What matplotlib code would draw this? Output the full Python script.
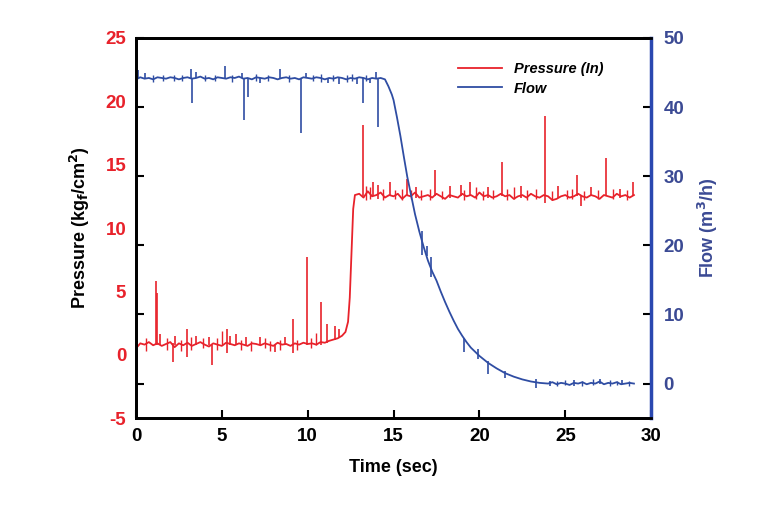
#!/usr/bin/env python
# Pressure / flow transient plot (twin y axes)

import numpy as np
import matplotlib

matplotlib.use("Agg")
from matplotlib import pyplot as plt  # noqa: E402
from matplotlib.lines import Line2D  # noqa: E402

plt.rcParams["font.family"] = ["Liberation Sans", "DejaVu Sans"]
plt.rcParams["axes.unicode_minus"] = False

RED = "#e8222b"
BLUE = "#2f4da3"
BLUE_TXT = "#3b4a94"

# ---------------------------------------------------------------- data
# pressure trace (kg_f/cm^2)
press_t_low = np.arange(0.0, 11.26, 0.25)
press_v_low = [
    0.5, 0.9, 0.8, 1.0, 0.75, 0.9, 0.7, 0.85, 1.0, 0.6,
    0.9, 0.75, 0.95, 0.7, 0.85, 1.0, 0.8, 0.65, 0.9, 0.8,
    0.7, 0.95, 0.85, 0.75, 0.9, 0.8, 0.7, 0.9, 0.85, 0.75,
    0.9, 0.8, 0.7, 0.95, 0.8, 0.85, 0.7, 0.9, 0.8, 0.95,
    0.85, 0.9, 0.8, 1.0, 0.95, 1.1,
]
press_t_rise = [11.5, 11.75, 12.0, 12.2, 12.35, 12.45, 12.55, 12.65, 12.75]
press_v_rise = [1.2, 1.3, 1.5, 1.8, 2.6, 4.5, 8.0, 11.5, 12.6]
press_t_high = np.arange(13.0, 29.01, 0.25)
press_v_high = [
    12.7, 12.4, 12.9, 12.5, 12.6, 12.8, 12.4, 12.6, 12.5, 12.7,
    12.3, 12.6, 12.5, 12.8, 12.4, 12.5, 12.6, 12.4, 12.7, 12.5,
    12.3, 12.6, 12.5, 12.4, 12.7, 12.5, 12.6, 12.4, 12.8, 12.5,
    12.6, 12.4, 12.5, 12.7, 12.5, 12.6, 12.3, 12.5, 12.6, 12.4,
    12.7, 12.5, 12.4, 12.6, 12.5, 12.2, 12.3, 12.5, 12.6, 12.4,
    12.5, 12.7, 12.5, 12.4, 12.6, 12.5, 12.3, 12.6, 12.5, 12.4,
    12.7, 12.5, 12.6, 12.4, 12.6,
]
# pressure spikes: time, low end, high end
press_spk_t = [0.05, 1.16, 1.25, 1.4, 2.16, 2.3, 2.96, 3.5, 4.25, 4.4, 5.3,
               5.45, 5.8, 6.4, 7.2, 8.1, 8.7, 9.14, 9.95, 10.8, 11.1, 11.6,
               11.8, 13.2, 13.8, 14.1, 14.8, 15.8, 16.3, 17.4, 18.3, 18.9,
               19.45, 20.5, 21.3, 22.4, 23.8, 24.6, 25.7, 25.9, 26.5, 27.4,
               28.2, 28.95]
press_spk_lo = [-0.3, 0.8, 0.8, 0.8, -0.6, 0.8, -0.2, 0.8, 0.8, -0.8, 0.1,
                0.8, 0.8, 0.8, 0.8, 0.2, 0.8, 0.1, 0.8, 0.8, 0.9, 1.2,
                1.3, 12.5, 12.5, 12.3, 12.5, 12.5, 12.4, 12.5, 12.4, 12.5,
                12.5, 12.4, 12.5, 12.4, 12.0, 12.4, 12.5, 11.7, 12.5, 12.5,
                12.4, 12.5]
press_spk_hi = [1.2, 5.8, 4.9, 1.6, 0.9, 1.5, 2.0, 1.5, 1.4, 0.8, 2.0,
                1.5, 1.6, 1.4, 1.4, 0.8, 1.4, 2.8, 7.7, 4.2, 2.4, 2.3,
                2.0, 18.1, 13.6, 13.4, 13.6, 13.9, 13.2, 14.6, 13.3, 13.4,
                13.6, 13.2, 15.2, 13.3, 18.8, 13.3, 14.2, 12.5, 13.2, 15.5,
                13.1, 13.6]
# small pressure jitter
press_jit_t = [0.6, 1.8, 2.6, 3.2, 3.9, 4.7, 5.0, 6.1, 6.7, 7.5, 7.8, 8.4,
               9.4, 10.2, 10.5, 13.4, 13.6, 14.4, 15.1, 15.5, 16.0, 16.6,
               17.1, 17.8, 19.1, 19.8, 20.2, 20.8, 21.6, 22.0, 22.8, 23.3,
               24.2, 25.1, 25.4, 26.1, 26.9, 27.8, 28.6]
press_jit_lo = [0.3, 0.4, 0.3, 0.4, 0.5, 0.4, 0.8, 0.4, 0.3, 0.5, 0.3, 0.4,
                0.4, 0.5, 0.8, 12.2, 12.3, 12.2, 12.3, 12.2, 12.3, 12.2,
                12.2, 12.3, 12.2, 12.3, 12.2, 12.3, 12.2, 12.3, 12.2, 12.3,
                12.2, 12.3, 12.3, 12.2, 12.3, 12.3, 12.2]
press_jit_hi = [1.3, 1.3, 1.2, 1.4, 1.3, 1.3, 1.9, 1.2, 1.1, 1.3, 1.1, 1.2,
                1.2, 1.3, 1.7, 13.3, 13.2, 13.1, 13.0, 13.1, 13.0, 13.0,
                13.1, 12.9, 13.0, 13.2, 12.9, 13.0, 13.1, 13.2, 13.0, 13.1,
                12.9, 13.0, 13.1, 12.9, 13.0, 13.1, 13.0]

# flow trace (m^3/h)
flow_t_high = np.arange(0.0, 14.26, 0.25)
flow_v_high = [
    44.0, 44.3, 44.1, 44.2, 44.0, 44.3, 44.2, 44.1, 44.3, 44.2,
    44.0, 44.2, 44.3, 44.1, 44.2, 44.4, 44.1, 44.2, 44.0, 44.3,
    44.2, 44.1, 44.3, 44.2, 44.4, 44.1, 44.2, 44.0, 44.3, 44.2,
    44.1, 44.3, 44.2, 44.0, 44.2, 44.3, 44.1, 44.2, 44.0, 44.3,
    44.2, 44.1, 44.3, 44.2, 44.0, 44.2, 44.1, 44.3, 44.2, 44.0,
    44.2, 44.1, 44.3, 44.2, 44.0, 44.2, 44.1, 44.2,
]
flow_t_fall = [14.5, 14.7, 14.9, 15.0, 15.2, 15.4, 15.6, 15.8, 16.0, 16.25,
               16.5, 16.75, 17.0, 17.25, 17.5, 17.75, 18.0, 18.25, 18.5,
               18.75, 19.0, 19.25, 19.5, 19.75, 20.0, 20.5, 21.0, 21.5,
               22.0, 22.5, 23.0, 23.5]
flow_v_fall = [44.0, 43.0, 41.8, 41.0, 38.5, 35.8, 32.8, 29.9, 27.5, 24.5,
               22.0, 19.8, 17.8, 16.2, 14.9, 13.3, 11.8, 10.4, 9.1,
               7.9, 6.9, 6.0, 5.2, 4.6, 4.0, 3.0, 2.2, 1.5,
               1.0, 0.6, 0.3, 0.1]
flow_t_low = np.arange(24.0, 29.01, 0.25)
flow_v_low = [0.0, 0.2, -0.1, 0.1, 0.0, -0.2, 0.1, 0.0, 0.2, -0.1,
              0.1, 0.0, 0.3, -0.1, 0.1, 0.0, 0.2, -0.1, 0.0, 0.1, 0.0]
# flow spikes: time, low end, high end
flow_spk_t = [0.1, 0.5, 3.2, 3.27, 3.5, 5.2, 6.2, 6.29, 6.5, 7.2, 8.4, 9.6,
              9.9, 11.2, 11.8, 12.9, 13.2, 13.6, 14.0, 14.1, 16.65, 16.95,
              17.2, 19.1, 19.9, 20.5, 21.5, 23.3, 24.1, 25.5, 27.0, 28.3]
flow_spk_lo = [44.2, 44.2, 44.2, 40.6, 44.2, 44.2, 44.2, 38.1, 41.4, 43.5,
               44.2, 36.2, 44.2, 43.5, 43.4, 43.3, 40.6, 43.5, 44.2, 37.1,
               18.6, 18.4, 15.4, 4.5, 3.6, 1.4, 0.8, -0.7, -0.4, -0.3,
               0.0, 0.0]
flow_spk_hi = [45.4, 44.9, 45.5, 44.2, 45.0, 45.9, 44.9, 44.2, 44.2, 44.2,
               45.5, 44.2, 44.9, 44.2, 44.2, 44.2, 44.2, 44.2, 45.0, 44.2,
               22.0, 19.9, 18.3, 6.6, 5.0, 3.3, 1.8, 0.7, 0.3, 0.5,
               0.6, 0.5]
# small flow jitter
flow_jit_t = [1.0, 1.6, 2.2, 2.7, 4.0, 4.6, 5.6, 7.0, 7.7, 8.9, 10.3, 10.8,
              11.5, 12.3, 12.6, 13.4, 24.5, 25.0, 26.0, 26.6, 27.6, 28.0,
              28.7]
flow_jit_lo = [43.6, 43.8, 43.7, 43.8, 43.7, 43.8, 43.6, 43.7, 43.8, 43.6,
               43.7, 43.6, 43.8, 43.6, 43.7, 43.7, -0.3, -0.2, -0.3, -0.2,
               -0.3, -0.2, -0.3]
flow_jit_hi = [44.6, 44.7, 44.6, 44.6, 44.6, 44.7, 44.6, 44.8, 44.6, 44.7,
               44.6, 44.8, 44.7, 44.6, 44.8, 44.7, 0.4, 0.5, 0.3, 0.6,
               0.5, 0.4, 0.4]

x_ticks = [0, 5, 10, 15, 20, 25, 30]
press_ticks = [-5, 0, 5, 10, 15, 20, 25]
flow_ticks = [0, 10, 20, 30, 40, 50]


def main():
    fig = plt.figure(figsize=(7.77, 5.05), dpi=100)
    ax = fig.add_axes([0.175, 0.172, 0.663, 0.753])

    press_t = np.concatenate([press_t_low, press_t_rise, press_t_high])
    press_v = np.concatenate([press_v_low, press_v_rise, press_v_high])
    flow_t = np.concatenate([flow_t_high, flow_t_fall, flow_t_low])
    flow_v = np.concatenate([flow_v_high, flow_v_fall, flow_v_low])

    ax.plot(press_t, press_v, color=RED, lw=1.3)
    ax.vlines(press_spk_t, press_spk_lo, press_spk_hi, color=RED, lw=1.2)
    ax.vlines(press_jit_t, press_jit_lo, press_jit_hi, color=RED, lw=1.0)
    ax.set_xlim(0, 30)
    ax.set_ylim(-5, 25)
    ax.set_xticks(x_ticks)
    ax.set_yticks(press_ticks)
    ax.tick_params(axis="y", length=0, pad=7, labelcolor=RED, labelsize=13.5)
    ax.tick_params(axis="x", direction="in", length=6, width=1.5, pad=7,
                   labelsize=13.5, top=False)
    for lab in ax.get_xticklabels() + ax.get_yticklabels():
        lab.set_fontweight("bold")
    ax.set_xlabel("Time (sec)", fontsize=13, fontweight="bold", labelpad=10)
    ax.set_ylabel("Pressure (kg$_\\mathbf{f}$/cm$^\\mathbf{2}$)", fontsize=13,
                  fontweight="bold", labelpad=10)

    ax2 = ax.twinx()
    ax2.plot(flow_t, flow_v, color=BLUE, lw=1.3)
    ax2.vlines(flow_spk_t, flow_spk_lo, flow_spk_hi, color=BLUE, lw=1.2)
    ax2.vlines(flow_jit_t, flow_jit_lo, flow_jit_hi, color=BLUE, lw=1.0)
    ax2.set_ylim(-5, 50)
    ax2.set_yticks(flow_ticks)
    ax2.tick_params(axis="y", direction="in", left=True, right=True,
                    length=6, width=1.5, pad=9, labelcolor=BLUE_TXT,
                    labelsize=13.5)
    for lab in ax2.get_yticklabels():
        lab.set_fontweight("bold")
    ax2.set_ylabel("Flow (m$^\\mathbf{3}$/h)", fontsize=13, fontweight="bold",
                   color=BLUE_TXT, labelpad=8)

    for a in (ax, ax2):
        for side in ("left", "top", "bottom"):
            a.spines[side].set_linewidth(2)
            a.spines[side].set_color("black")
    ax2.spines["right"].set_linewidth(2.5)
    ax2.spines["right"].set_color("#2a48b0")
    ax.spines["right"].set_visible(False)

    handles = [Line2D([], [], color=RED, lw=1.3),
               Line2D([], [], color=BLUE, lw=1.3)]
    ax2.legend(handles, ["Pressure (In)", "Flow"], loc="upper left",
               bbox_to_anchor=(0.60, 0.97), frameon=False,
               prop=dict(size=10.5, weight="bold", style="italic"),
               handlelength=3.0, labelspacing=0.35, handletextpad=0.8)

    fig.savefig("out.png", dpi=100)


if __name__ == "__main__":
    main()
